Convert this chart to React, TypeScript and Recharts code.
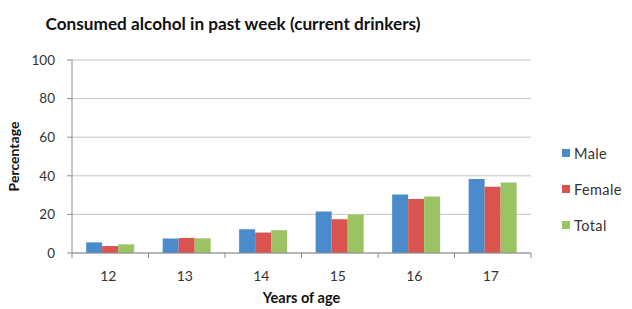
import { BarChart, Bar, XAxis, YAxis, CartesianGrid } from 'recharts'

const ages = ['12', '13', '14', '15', '16', '17']
const male = [5.5, 7.5, 12.3, 21.5, 30.3, 38.4]
const female = [3.6, 7.8, 10.6, 17.5, 28, 34.3]
const total = [4.5, 7.6, 11.8, 19.9, 29.3, 36.5]
const yTicks = [0, 20, 40, 60, 80, 100]

const SERIES = [
  { key: 'male', name: 'Male', color: '#4a8bcb' },
  { key: 'female', name: 'Female', color: '#d9534f' },
  { key: 'total', name: 'Total', color: '#9bc263' },
]

const data = ages.map((age, i) => ({ age, male: male[i], female: female[i], total: total[i] }))

const W = 632
const H = 309
const X_H = 30
const M = { top: 60, right: 101, bottom: 56 - X_H, left: 0 }
const Y_W = 72
const HALF_BAND = (W - M.left - M.right - Y_W) / ages.length / 2
const FONT = 'Lato, "Open Sans", sans-serif'

// Excel-style: text under the category, tick marks between categories
function AgeTick({ x, y, payload, index }: { x: number; y: number; payload: { value: string }; index: number }) {
  return (
    <g>
      <line x1={x - HALF_BAND} x2={x - HALF_BAND} y1={y} y2={y + 5} stroke="#8c8c8c" />
      {index === ages.length - 1 && (
        <line x1={x + HALF_BAND} x2={x + HALF_BAND} y1={y} y2={y + 5} stroke="#8c8c8c" />
      )}
      <text x={x - 2} y={y + 22} textAnchor="middle" dominantBaseline="central" fontSize={14} fill="#333" fontFamily={FONT}>
        {payload.value}
      </text>
    </g>
  )
}

function LegendBox() {
  return (
    <div style={{ position: 'absolute', left: 562, top: 135, fontFamily: FONT, fontSize: 14.5, color: '#333' }}>
      {SERIES.map(s => (
        <div key={s.key} style={{ display: 'flex', alignItems: 'center', height: 36 }}>
          <div style={{ width: 8, height: 8, background: s.color, marginRight: 4 }} />
          <span style={{ letterSpacing: 0.4 }}>{s.name}</span>
        </div>
      ))}
    </div>
  )
}

export default function App() {
  return (
    <div style={{ position: 'absolute', left: 0, top: 0, width: W, height: H, background: '#fff' }}>
      <div
        style={{
          position: 'absolute', left: 0, top: 13, width: 466, textAlign: 'center',
          fontFamily: FONT, fontWeight: 700, fontSize: 17.2, color: '#111',
        }}
      >
        Consumed alcohol in past week (current drinkers)
      </div>
      <BarChart width={W} height={H} data={data} margin={M} barCategoryGap="18.5%" barGap={0}>
        <CartesianGrid vertical={false} stroke="#c4c4c4" />
        <XAxis
          dataKey="age"
          height={X_H}
          stroke="#8c8c8c"
          tickLine={false}
          tickSize={0}
          tickMargin={0}
          interval={0}
          tick={AgeTick as any}
          label={{ value: 'Years of age', position: 'insideBottom', offset: -20, fontSize: 14.5, fontWeight: 700, fill: '#111', fontFamily: FONT }}
        />
        <YAxis
          width={Y_W}
          domain={[0, 100]}
          ticks={yTicks}
          stroke="#8c8c8c"
          tickSize={5}
          tickMargin={12}
          tick={{ fontSize: 13.5, fill: '#333', fontFamily: FONT }}
          label={{ value: 'Percentage', angle: -90, position: 'insideLeft', offset: 14, fontSize: 14, fontWeight: 700, fill: '#111', fontFamily: FONT, style: { textAnchor: 'middle' } }}
        />
        {SERIES.map(s => (
          <Bar key={s.key} dataKey={s.key} name={s.name} fill={s.color} isAnimationActive={false} />
        ))}
      </BarChart>
      <LegendBox />
    </div>
  )
}
